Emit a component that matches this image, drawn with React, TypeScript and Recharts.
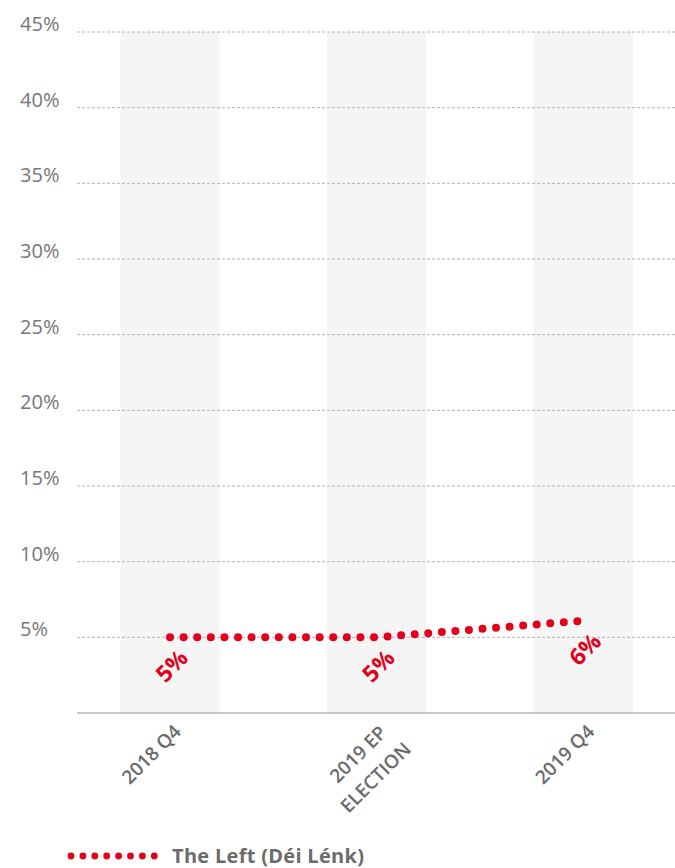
import React from "react";
import {
  Legend,
  Line,
  LineChart,
  ReferenceArea,
  ReferenceLine,
  XAxis,
  YAxis,
  LabelList,
} from "recharts";

const categories = ["2018 Q4", "2019 EP\nELECTION", "2019 Q4"];
const leftValues = [5.0, 5.0, 6.1];
const yTicks = [5, 10, 15, 20, 25, 30, 35, 40, 45];
const seriesName = "The Left (Déi Lénk)";

const RED = "#e3001b";
const GREY_TEXT = "#6b6b6b";
const FONT = "'Open Sans', 'Noto Sans', sans-serif";

const data = categories.map((c, i) => ({ idx: i, name: c, left: leftValues[i] }));

const XTick = (props: any) => {
  const { x, y, payload } = props;
  const lines = String(categories[payload.value] ?? "").split("\n");
  return (
    <g transform={`translate(${x - 19},${y + 33}) rotate(-45)`}>
      <text
        textAnchor="middle"
        dominantBaseline="central"
        fill={GREY_TEXT}
        fontSize={19}
        fontWeight={600}
        fontFamily={FONT}
      >
        {lines.map((l, i) => (
          <tspan key={i} x={i === 0 ? 0 : -4} dy={i === 0 ? 0 : 29}>
            {l}
          </tspan>
        ))}
      </text>
    </g>
  );
};

const YTick = (props: any) => {
  const { y, payload } = props;
  if (payload.value === 0) return null;
  return (
    <text
      x={20}
      y={y - 1}
      textAnchor="start"
      fill="#777"
      fontSize={20}
      fontFamily={FONT}
    >
      {payload.value}%
    </text>
  );
};

const ValueLabel = (props: any) => {
  const { x, y, value } = props;
  return (
    <text
      transform={`translate(${x + 1},${y + 28}) rotate(-45)`}
      textAnchor="middle"
      dominantBaseline="central"
      fill={RED}
      fontSize={23}
      fontWeight={700}
      fontFamily={FONT}
    >
      {Math.round(value)}%
    </text>
  );
};

const LegendContent = () => (
  <svg width={675} height={26} style={{ display: "block" }}>
    {Array.from({ length: 8 }).map((_, i) => (
      <circle key={i} cx={71 + i * 11.9} cy={14} r={3.4} fill={RED} />
    ))}
    <text
      x={172}
      y={21}
      fill={GREY_TEXT}
      fontSize={20}
      fontWeight={700}
      fontFamily={FONT}
      letterSpacing={0.3}
    >
      {seriesName}
    </text>
  </svg>
);

export default function App() {
  return (
    <div style={{ position: "absolute", left: 0, top: 0, fontFamily: FONT }}>
      <LineChart
        width={675}
        height={868}
        data={data}
        margin={{ top: 32, right: 0, bottom: 0, left: 0 }}
      >
        <XAxis
          dataKey="idx"
          type="number"
          domain={[-0.45, 2.443]}
          ticks={[0, 1, 2]}
          allowDataOverflow
          height={155}
          axisLine={{ stroke: "#b5b5b5", strokeWidth: 1.5 }}
          tickLine={false}
          tick={<XTick />}
          interval={0}
        />
        <YAxis
          type="number"
          domain={[0, 45]}
          ticks={[0, ...yTicks]}
          width={77}
          axisLine={false}
          tickLine={false}
          tick={<YTick />}
        />
        {categories.map((c, i) => (
          <ReferenceArea
            key={c}
            x1={i - 0.24}
            x2={i + 0.24}
            y1={0}
            y2={45}
            fill="#f5f5f5"
            fillOpacity={1}
            stroke="none"
          />
        ))}
        {yTicks.map((t) => (
          <ReferenceLine
            key={t}
            y={t}
            stroke="#b3b3b3"
            strokeDasharray="3 2"
          />
        ))}
        <Legend
          layout="vertical"
          align="center"
          verticalAlign="middle"
          wrapperStyle={{ position: "absolute", left: 0, top: 842, width: 675 }}
          content={<LegendContent />}
        />
        <Line
          type="linear"
          dataKey="left"
          name={seriesName}
          stroke={RED}
          strokeWidth={8}
          strokeDasharray="0 13.6"
          strokeLinecap="round"
          dot={false}
          activeDot={false}
          isAnimationActive={false}
        >
          <LabelList dataKey="left" content={<ValueLabel />} />
        </Line>
      </LineChart>
    </div>
  );
}
